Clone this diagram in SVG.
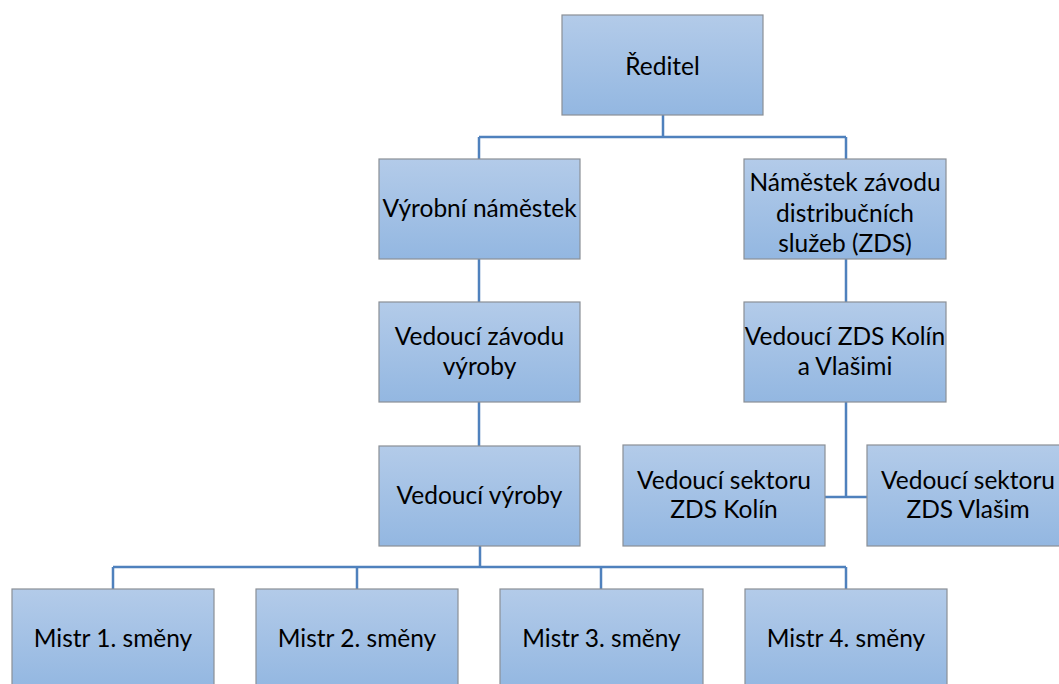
<svg xmlns="http://www.w3.org/2000/svg" width="1059" height="684" viewBox="0 0 1059 684">
<defs>
<linearGradient id="g" x1="0" y1="0" x2="0" y2="1">
<stop offset="0" stop-color="#b3cbe9"/>
<stop offset="1" stop-color="#93b7e1"/>
</linearGradient>
<style>
.b{fill:url(#g);stroke:#8a8f96;stroke-width:1.2}
.t{font-family:Lato,"Liberation Sans",sans-serif;font-size:24.5px;fill:#000;text-anchor:middle}
.c{fill:none;stroke:#4f81bd;stroke-width:2.5}
</style>
</defs>
<rect width="1059" height="684" fill="#fff"/>
<g id="connectors">
<path class="c" d="M663 115V137M479 137H846M479 137V159M846 137V159"/>
<path class="c" d="M479 259V302M479 402V446"/>
<path class="c" d="M846 259V302M846 402V497M825 497H867"/>
<path class="c" d="M480 546V567M113 567H846M113 567V589M357 567V589M601 567V589M846 567V589"/>
</g>
<g id="reditel"><rect class="b" x="562" y="15" width="201" height="100"/><text class="t" x="662.5" y="75">Ředitel</text></g>
<g id="vyrobni"><rect class="b" x="379" y="159" width="201" height="100"/><text class="t" x="479.5" y="217">Výrobní náměstek</text></g>
<g id="namestek-zds"><rect class="b" x="744" y="159" width="202" height="100"/><text class="t" x="845" y="191">Náměstek závodu</text><text class="t" x="845" y="222">distribučních</text><text class="t" x="845" y="252">služeb (ZDS)</text></g>
<g id="vedouci-zavodu"><rect class="b" x="379" y="302" width="201" height="100"/><text class="t" x="479.5" y="345">Vedoucí závodu</text><text class="t" x="479.5" y="375">výroby</text></g>
<g id="vedouci-zds"><rect class="b" x="744" y="302" width="202" height="100"/><text class="t" x="845" y="345">Vedoucí ZDS Kolín</text><text class="t" x="845" y="375">a Vlašimi</text></g>
<g id="vedouci-vyroby"><rect class="b" x="379" y="446" width="201" height="100"/><text class="t" x="479.5" y="504">Vedoucí výroby</text></g>
<g id="sektor-kolin"><rect class="b" x="623" y="445" width="202" height="101"/><text class="t" x="724" y="489">Vedoucí sektoru</text><text class="t" x="724" y="518">ZDS Kolín</text></g>
<g id="sektor-vlasim"><rect class="b" x="867" y="445" width="202" height="101"/><text class="t" x="968" y="489">Vedoucí sektoru</text><text class="t" x="968" y="518">ZDS Vlašim</text></g>
<g id="mistr1"><rect class="b" x="12" y="589" width="202" height="100"/><text class="t" x="113" y="647">Mistr 1. směny</text></g>
<g id="mistr2"><rect class="b" x="256" y="589" width="202" height="100"/><text class="t" x="357" y="647">Mistr 2. směny</text></g>
<g id="mistr3"><rect class="b" x="500" y="589" width="203" height="100"/><text class="t" x="601.5" y="647">Mistr 3. směny</text></g>
<g id="mistr4"><rect class="b" x="745" y="589" width="202" height="100"/><text class="t" x="846" y="647">Mistr 4. směny</text></g>
</svg>
